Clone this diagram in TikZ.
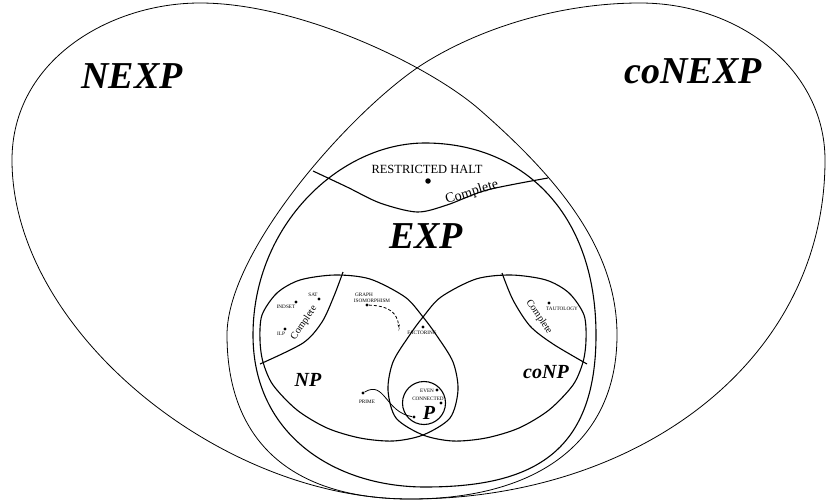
\documentclass[tikz,border=0pt]{standalone}
\usepackage{fontspec}
\setmainfont{Liberation Serif}
\usetikzlibrary{arrows.meta}
\begin{document}
\begin{tikzpicture}[x=1pt, y=-1pt,
		outer/.style={line width=0.8pt},
		region/.style={line width=1.1pt},
		dot/.style={circle, fill=black, inner sep=0pt, minimum size=3.4pt},
		tiny/.style={font=\fontsize{5.2}{6}\selectfont, inner sep=0pt, anchor=base},
		bigcls/.style={font=\fontsize{38}{40}\selectfont\bfseries\itshape, inner sep=0pt, anchor=base},
		smallcls/.style={font=\fontsize{20}{22}\selectfont\bfseries\itshape, inner sep=0pt, anchor=base},
		cmpl/.style={font=\fontsize{10}{12}\selectfont, inner sep=0pt}]
	\useasboundingbox (0,0) rectangle (826,503);

	% NEXP and coNEXP
	\draw[outer] (200,3) .. controls (110,3) and (12,60) .. (12,160)
		.. controls (12,330) and (220,499) .. (410,499)
		.. controls (540,499) and (617,440) .. (617,335)
		.. controls (617,250) and (560,180) .. (480,110)
		.. controls (430,66) and (300,3) .. cycle;
	\draw[outer] (640,3) .. controls (740,3) and (825,70) .. (825,160)
		.. controls (825,360) and (640,499) .. (410,499)
		.. controls (290,499) and (227,440) .. (227,335)
		.. controls (227,250) and (353,109) .. (423,64)
		.. controls (480,28) and (560,3) .. cycle;
	\node[bigcls] (nexp) at (132,88) {NEXP};
	\node[bigcls] (conexp) at (693,83) {coNEXP};

	% EXP
	\draw[region] (425,143) .. controls (520,143) and (596,210) .. (596,335)
		.. controls (596,455) and (530,487) .. (425,487)
		.. controls (335,487) and (253,435) .. (253,335)
		.. controls (253,225) and (340,143) .. cycle;
	\draw[region] plot[smooth] coordinates {(313,171) (347,187) (380,203) (417,212) (447,205) (487,190) (548,178)};
	\node[bigcls] (exp) at (426,248) {EXP};
	\node[font=\fontsize{12.5}{14}\selectfont, inner sep=0pt, anchor=base] (halt) at (427,173) {RESTRICTED HALT};
	\node[dot, minimum size=5.5pt] (haltdot) at (428,181) {};
	\node[font=\fontsize{14}{16}\selectfont, inner sep=0pt, anchor=base, rotate=17] (expc) at (473,196) {Complete};

	% NP and coNP
	\draw[region] plot[smooth cycle] coordinates {(260,340) (262,315) (277,293) (300,280) (335,275) (370,279) (405,297) (423,317) (437,336) (453,362) (458,390) (450,418) (423,435) (393,441) (360,438) (327,428) (297,410) (273,385) (263,362)};
	\draw[region] plot[smooth cycle] coordinates {(586,340) (584,315) (569,293) (546,280) (511,275) (476,279) (441,297) (423,317) (409,336) (393,362) (388,390) (396,418) (423,435) (453,441) (486,438) (519,428) (549,410) (573,385) (583,362)};
	\draw[region] plot[smooth] coordinates {(343,272) (334,296) (322,322) (303,343) (260,364)};
	\draw[region] plot[smooth] coordinates {(502,273) (513,300) (530,326) (553,344) (587,364)};
	\node[smallcls] (np) at (308,386) {NP};
	\node[smallcls] (conp) at (546,378) {coNP};
	\node[cmpl, rotate=56] (npc) at (304,323) {Complete};
	\node[cmpl, rotate=-56] (conpc) at (539,317) {Complete};

	% P
	\draw[region] (424,403) circle (21.5);
	\node[smallcls] (p) at (429,419) {P};

	% problems
	\node[dot] (satdot) at (319,299) {};
	\node[tiny] (sat) at (313,296) {SAT};
	\node[dot] (indsetdot) at (296,302) {};
	\node[tiny] (indset) at (286,308) {INDSET};
	\node[dot] (ilpdot) at (285,329) {};
	\node[tiny] (ilp) at (281,335) {ILP};
	\node[dot] (gidot) at (367,305) {};
	\node[tiny] (gi1) at (364,296) {GRAPH};
	\node[tiny] (gi2) at (372,302) {ISOMORPHISM};
	\node[tiny] (qm) at (399,331) {?};
	\node[dot] (factdot) at (423,327) {};
	\node[tiny] (fact) at (422,334) {FACTORING};
	\node[dot] (tautdot) at (549,303) {};
	\node[tiny] (taut) at (562,310) {TAUTOLOGY};
	\node[dot] (evendot) at (437,390) {};
	\node[tiny] (even) at (427,392) {EVEN};
	\node[dot] (conndot) at (441,403) {};
	\node[tiny] (conn) at (428,400) {CONNECTED};
	\node[dot] (primedot) at (363,393) {};
	\node[tiny] (prime) at (367,403) {PRIME};
	\node[dot] (pdot) at (414,417) {};

	\draw[densely dashed, thick, -{Stealth[length=3pt, width=2.5pt]}] (gidot) .. controls (390,306) and (397,313) .. (qm.north);
	\draw[thick] (primedot) .. controls (385,380) and (385,412) .. (pdot);
\end{tikzpicture}
\end{document}
